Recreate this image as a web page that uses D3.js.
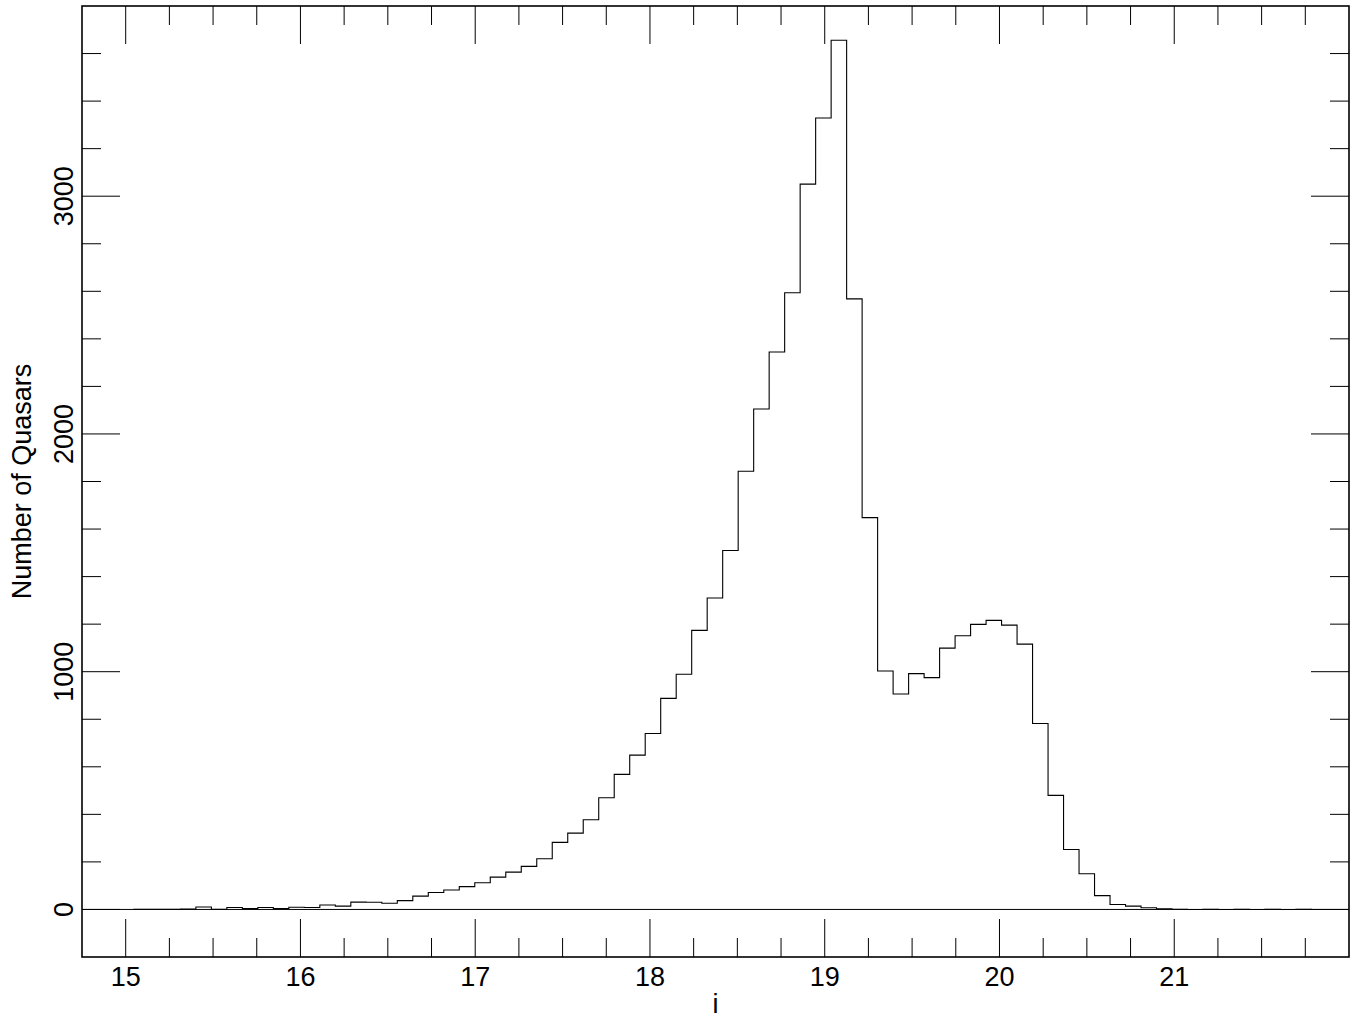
<!DOCTYPE html>
<meta charset="utf-8">
<style>
body {
  margin: 0;
  background: #fff;
}

.label {
  fill: #000;
  font: 27px "Liberation Sans", Arial, sans-serif;
}

.frame {
  fill: none;
  stroke: #000;
  stroke-width: 1.6;
}

.tick {
  stroke: #000;
  stroke-width: 1;
}

.hist {
  fill: none;
  stroke: #000;
  stroke-width: 1.1;
}
</style>
<body>
  <div id="chart"></div>
</body>
<script src="https://d3js.org/d3.v7.min.js"></script>
<script>

// histogram of i magnitudes, bins of equal width starting at binStart
var binStart = 15.047,
    binWidth = 0.08866;

var counts = [
  1, 1, 1, 2, 10, 1, 8, 4, 8, 4,
  9, 8, 19, 14, 31, 30, 26, 37, 56, 71,
  82, 96, 112, 136, 157, 181, 213, 282, 321, 377,
  470, 568, 649, 740, 888, 989, 1174, 1310, 1510, 1843,
  2105, 2345, 2594, 3051, 3329, 3656, 2568, 1648, 1003, 906,
  992, 975, 1099, 1151, 1199, 1216, 1196, 1116, 782, 480,
  252, 150, 58, 21, 14, 7, 3, 1, 0, 1,
  0, 1, 0, 1, 0, 1
];

var xMajor = [15, 16, 17, 18, 19, 20, 21];
var yMajor = [0, 1000, 2000, 3000];
var xDomain = [14.75, 22];
var yDomain = [-200, 3800];

var width = 1364,
    height = 1020;

var plotLeft = 82,
    plotRight = 1349,
    plotTop = 6,
    plotBottom = 957;

var majorLen = 38,
    minorLen = 19;

var x = d3.scaleLinear().domain(xDomain).range([plotLeft, plotRight]);
var y = d3.scaleLinear().domain(yDomain).range([plotBottom, plotTop]);

var svg = d3.select("#chart").append("svg")
    .attr("width", width)
    .attr("height", height);

// minor ticks every 0.25 in x, every 200 in y
var xMinor = d3.range(15, 21.76, 0.25).filter(function(d) { return xMajor.indexOf(Math.round(d * 100) / 100) < 0; });
var yMinor = d3.range(-200, 3801, 200).filter(function(d) { return yMajor.indexOf(d) < 0 && d > yDomain[0] && d < yDomain[1]; });

var ticks = svg.append("g").attr("class", "ticks");

function xTicks(data, len) {
  ticks.selectAll(null).data(data).enter().append("line")
    .attr("class", "tick")
    .attr("x1", function(d) { return x(d); })
    .attr("x2", function(d) { return x(d); })
    .attr("y1", plotBottom)
    .attr("y2", plotBottom - len);
  ticks.selectAll(null).data(data).enter().append("line")
    .attr("class", "tick")
    .attr("x1", function(d) { return x(d); })
    .attr("x2", function(d) { return x(d); })
    .attr("y1", plotTop)
    .attr("y2", plotTop + len);
}

function yTicks(data, len) {
  ticks.selectAll(null).data(data).enter().append("line")
    .attr("class", "tick")
    .attr("y1", function(d) { return y(d); })
    .attr("y2", function(d) { return y(d); })
    .attr("x1", plotLeft)
    .attr("x2", plotLeft + len);
  ticks.selectAll(null).data(data).enter().append("line")
    .attr("class", "tick")
    .attr("y1", function(d) { return y(d); })
    .attr("y2", function(d) { return y(d); })
    .attr("x1", plotRight)
    .attr("x2", plotRight - len);
}

xTicks(xMajor, majorLen);
xTicks(xMinor, minorLen);
yTicks(yMajor, majorLen);
yTicks(yMinor, minorLen);

// zero line
svg.append("line")
  .attr("class", "tick")
  .attr("x1", plotLeft)
  .attr("x2", plotRight)
  .attr("y1", y(0))
  .attr("y2", y(0));

// step outline of the histogram
var pts = [{ e: binStart, v: 0 }];
counts.forEach(function(c, i) {
  pts.push({ e: binStart + i * binWidth, v: c });
});
pts.push({ e: binStart + counts.length * binWidth, v: counts[counts.length - 1] });
pts.push({ e: binStart + counts.length * binWidth, v: 0 });

var line = d3.line()
  .x(function(d) { return x(d.e); })
  .y(function(d) { return y(d.v); })
  .curve(d3.curveStepAfter);

svg.append("path")
  .datum(pts)
  .attr("class", "hist")
  .attr("d", line);

svg.append("rect")
  .attr("class", "frame")
  .attr("x", plotLeft)
  .attr("y", plotTop)
  .attr("width", plotRight - plotLeft)
  .attr("height", plotBottom - plotTop);

// tick labels
svg.selectAll("text.xlab")
  .data(xMajor)
  .enter().append("text")
  .attr("class", "label xlab")
  .attr("x", function(d) { return x(d); })
  .attr("y", 986)
  .style("text-anchor", "middle")
  .text(function(d) { return d; });

svg.selectAll("text.ylab")
  .data(yMajor)
  .enter().append("text")
  .attr("class", "label ylab")
  .attr("transform", function(d) { return "translate(73," + y(d) + ") rotate(-90)"; })
  .style("text-anchor", "middle")
  .text(function(d) { return d; });

svg.append("text")
  .attr("class", "label")
  .attr("x", (plotLeft + plotRight) / 2)
  .attr("y", 1013)
  .style("text-anchor", "middle")
  .text("i");

svg.append("text")
  .attr("class", "label")
  .attr("transform", "translate(31," + (plotTop + plotBottom) / 2 + ") rotate(-90)")
  .style("text-anchor", "middle")
  .text("Number of Quasars");

</script>
</html>
